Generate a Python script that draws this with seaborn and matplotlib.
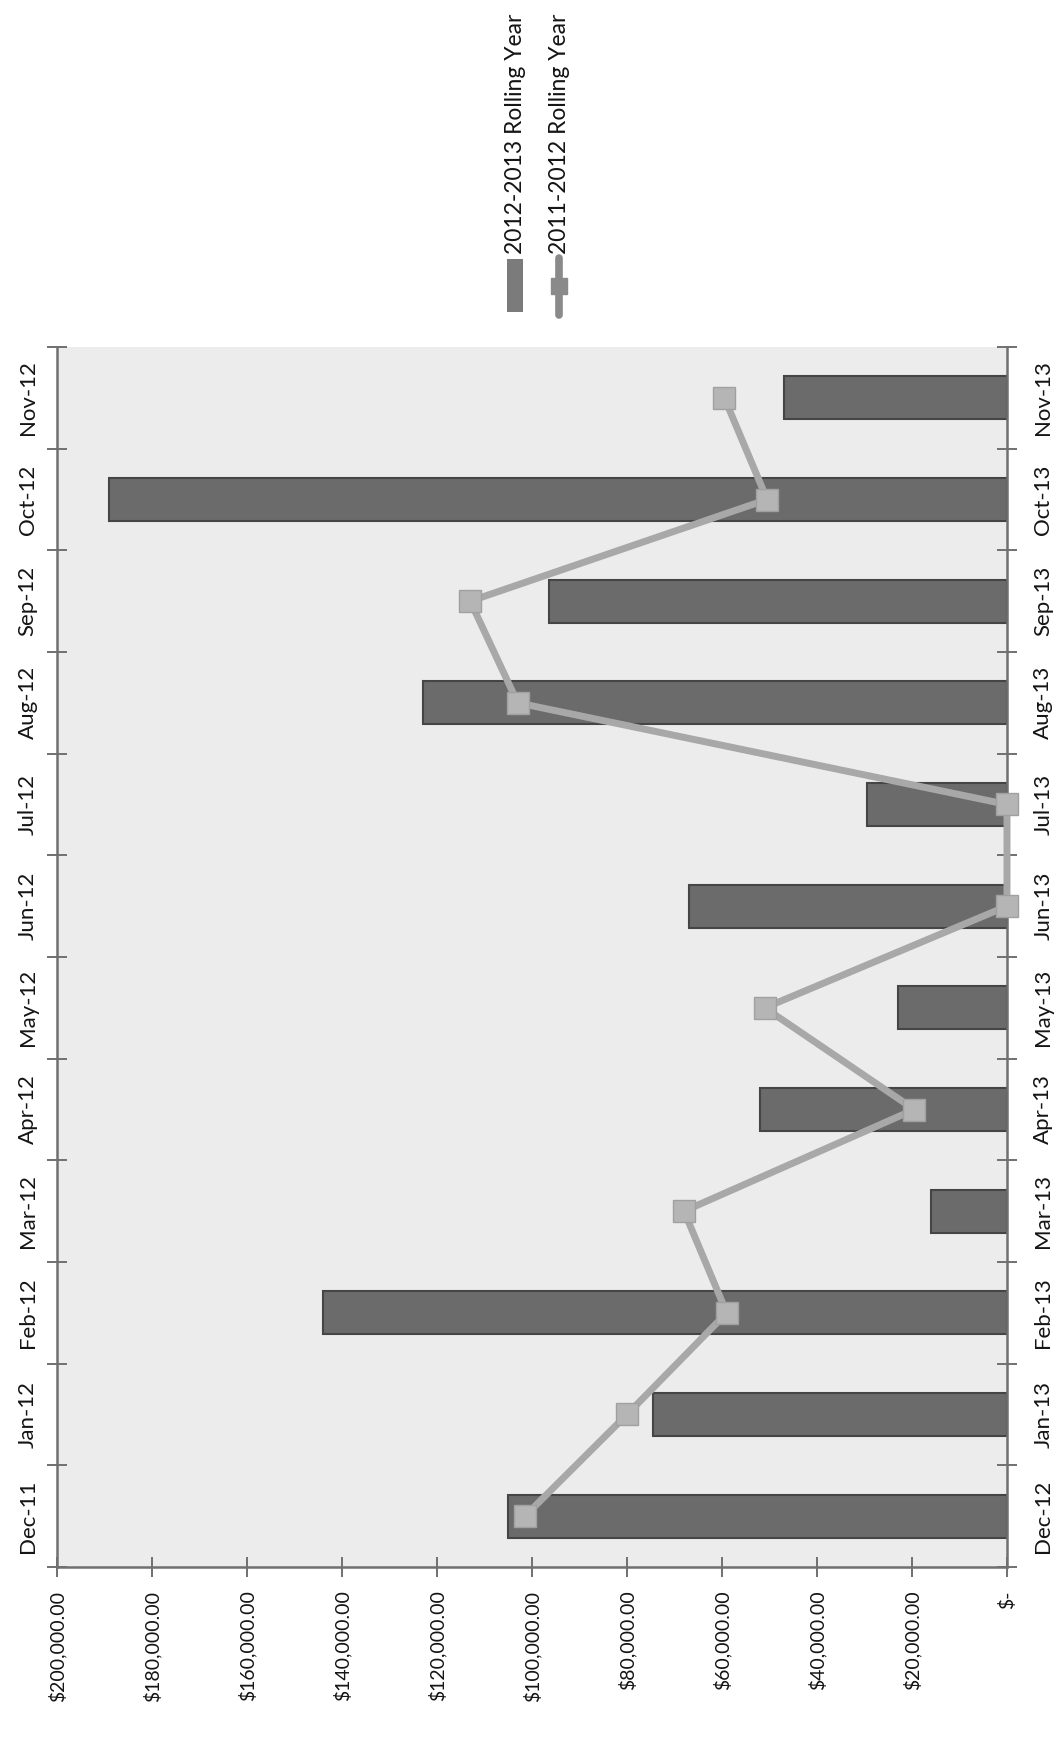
import matplotlib
matplotlib.use("Agg")
import matplotlib.pyplot as plt
from matplotlib.patches import Rectangle
from matplotlib.lines import Line2D
import seaborn as sns
import pandas as pd

# Monthly totals, rolling year 2012-2013 (columns) and 2011-2012 (line)
months_1213 = ["Dec-12", "Jan-13", "Feb-13", "Mar-13", "Apr-13", "May-13",
               "Jun-13", "Jul-13", "Aug-13", "Sep-13", "Oct-13", "Nov-13"]
sales_1213 = [105000, 74500, 144000, 16000, 52000, 23000,
              67000, 29500, 123000, 96500, 189000, 47000]

months_1112 = ["Dec-11", "Jan-12", "Feb-12", "Mar-12", "Apr-12", "May-12",
               "Jun-12", "Jul-12", "Aug-12", "Sep-12", "Oct-12", "Nov-12"]
sales_1112 = [101500, 80000, 59000, 68000, 19500, 51000,
              0, 0, 103000, 113000, 50500, 59500]

value_ticks = [0, 20000, 40000, 60000, 80000, 100000,
               120000, 140000, 160000, 180000, 200000]
value_labels = ["$-", "$20,000.00", "$40,000.00", "$60,000.00", "$80,000.00",
                "$100,000.00", "$120,000.00", "$140,000.00", "$160,000.00",
                "$180,000.00", "$200,000.00"]

legend_labels = ["2012-2013 Rolling Year", "2011-2012 Rolling Year"]

sns.set_style("white")
plt.rcParams["font.family"] = ["Lato", "DejaVu Sans"]

BAR = "#6b6b6b"
BAR_EDGE = "#454545"
LINE = "#a8a8a8"
MARK = "#b5b5b5"
AXIS = "#707070"
TEXT = "#141414"
FS_VAL = 14
FS_CAT = 16

W, H = 1060, 1739
fig = plt.figure(figsize=(W / 100, H / 100), dpi=100, facecolor="white")


def fx(px):
    return px / W


def fy(py):
    return 1 - py / H


left, right, top, bottom = 57, 1007, 347, 1567
ax = fig.add_axes([fx(left), fy(bottom), fx(right - left), (bottom - top) / H])
ax2 = ax.twinx()

df_bar = pd.DataFrame({"month": months_1213, "sales": sales_1213})
df_line = pd.DataFrame({"month": months_1112, "sales": sales_1112})

sns.barplot(data=df_bar, x="sales", y="month", order=months_1213, orient="h",
            color=BAR, saturation=1, width=0.42, edgecolor=BAR_EDGE,
            linewidth=1.5, ax=ax)
sns.pointplot(data=df_line, x="sales", y="month", order=months_1112,
              orient="h", color=LINE, markers="s", errorbar=None, ax=ax2)

for ln in ax2.lines:
    ln.set_linewidth(5)
    ln.set_markersize(16)
    ln.set_markerfacecolor(MARK)
    ln.set_markeredgecolor("#a0a0a0")
    ln.set_markeredgewidth(1.0)
    ln.set_clip_on(False)
    ln.set_zorder(5)

ax.set_facecolor("#ececec")
ax.set_xlim(200000, 0)
ax.set_ylim(-0.5, 11.5)
ax2.set_ylim(-0.5, 11.5)
ax.set_xlabel("")
ax.set_ylabel("")
ax2.set_xlabel("")
ax2.set_ylabel("")

# value axis along the bottom
ax.set_xticks(value_ticks)
ax.set_xticklabels(value_labels, rotation=90, ha="center", va="top",
                   fontsize=FS_VAL, color=TEXT)
ax.tick_params(axis="x", which="major", direction="inout", length=14,
               width=1.4, color=AXIS, pad=10, bottom=True)

# primary categories on the right, secondary on the left
cats = list(range(12))
edges = [i - 0.5 for i in range(13)]

ax.yaxis.tick_right()
ax.set_yticks(cats)
ax.set_yticklabels(months_1213, rotation=90, va="center", ha="left",
                   fontsize=FS_CAT, color=TEXT)
ax.set_yticks(edges, minor=True)
ax.tick_params(axis="y", which="major", length=0, pad=19,
               left=False, right=True)
ax.tick_params(axis="y", which="minor", direction="inout", length=14,
               width=1.4, color=AXIS, left=False, right=True)

ax2.yaxis.tick_left()
ax2.set_yticks(cats)
ax2.set_yticklabels(months_1112, rotation=90, va="center", ha="right",
                    fontsize=FS_CAT, color=TEXT)
ax2.set_yticks(edges, minor=True)
ax2.tick_params(axis="y", which="major", length=0, pad=14,
                left=True, right=False)
ax2.tick_params(axis="y", which="minor", direction="inout", length=14,
                width=1.4, color=AXIS, left=True, right=False)

for name, sp in ax.spines.items():
    sp.set_visible(name in ("left", "right", "bottom"))
    sp.set_color(AXIS)
    sp.set_linewidth(1.8)
for sp in ax2.spines.values():
    sp.set_visible(False)

# legend keys and labels, set vertically above the plot
fig.add_artist(Rectangle((fx(507), fy(312)), fx(523) - fx(507),
                         fy(259) - fy(312), transform=fig.transFigure,
                         facecolor="#7b7b7b", edgecolor="none"))
fig.add_artist(Line2D([fx(559), fx(559)], [fy(315), fy(258)],
                      transform=fig.transFigure, color="#8a8a8a",
                      linewidth=5.5, solid_capstyle="round"))
fig.add_artist(Line2D([fx(559)], [fy(286)], transform=fig.transFigure,
                      marker="s", markersize=12, color="#8a8a8a",
                      linestyle="none"))
fig.text(fx(516), fy(254), legend_labels[0], rotation=90, ha="center",
         va="bottom", fontsize=16.5, color=TEXT)
fig.text(fx(560), fy(254), legend_labels[1], rotation=90, ha="center",
         va="bottom", fontsize=16.5, color=TEXT)

fig.savefig("out.png", dpi=100, facecolor="white")
